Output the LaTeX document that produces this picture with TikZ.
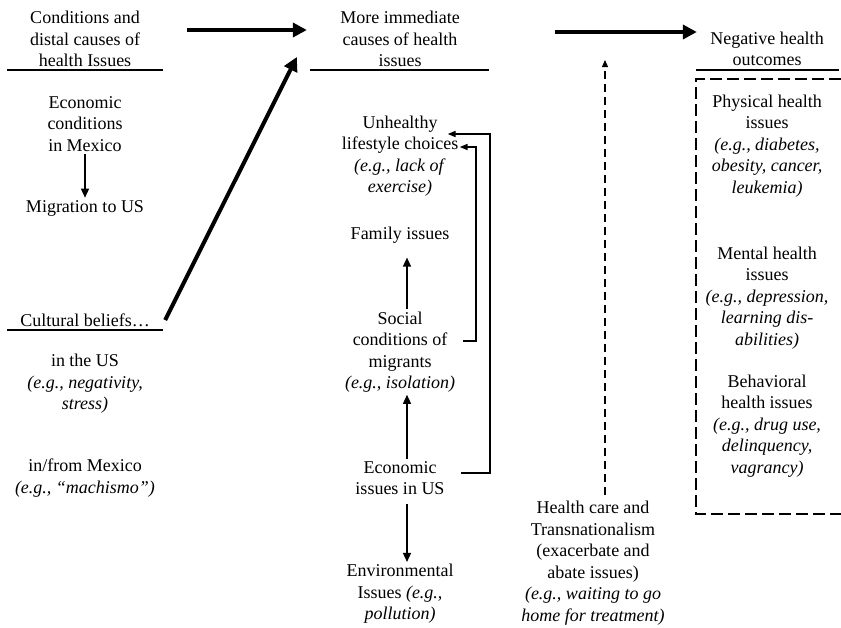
\documentclass[tikz,border=0pt]{standalone}
\usepackage{fontspec}
\setmainfont{Liberation Serif}
\usetikzlibrary{arrows.meta,positioning}

\tikzset{
  lbl/.style={align=center, inner sep=1pt, font=\fontsize{9}{10.75}\selectfont},
  ar/.style={-{Triangle[length=4.5pt,width=4pt]}, line width=0.7pt},
  elb/.style={-{Triangle[length=4pt,width=3pt]}, line width=0.8pt},
  big/.style={-{Triangle[length=7pt,width=7pt]}, line width=2pt},
  dar/.style={-{Triangle[length=3.5pt,width=3pt]}, line width=0.6pt, dash pattern=on 4pt off 2.5pt},
  rule/.style={line width=1pt},
}

\begin{document}
\begin{tikzpicture}[x=0.5pt, y=-0.5pt, on grid]
\useasboundingbox (0,0) rectangle (841,627);
% headings
\node[lbl] (hd1) at (85,39) {Conditions and\\distal causes of\\health Issues};
\node[lbl] (hd2) at (400,39) {More immediate\\causes of health\\issues};
\node[lbl] (hd3) at (767,49) {Negative health\\outcomes};
\draw[rule] (7,70) -- (163,70);
\draw[rule] (310,70) -- (489,70);
\draw[rule] (696,70) -- (839,70);

% distal causes
\node[lbl] (econmx) [below=42.5pt of hd1] {Economic\\conditions\\in Mexico};
\node[lbl] (migr) [below=42pt of econmx] {Migration to US};
\node[lbl] (cult) [below=56pt of migr] {Cultural beliefs…};
\draw[rule] (7,330) -- (163,330);
\node[lbl] (inus) [below=32pt of cult] {in the US\\\textit{(e.g., negativity,}\\\textit{stress)}};
\node[lbl] (inmx) [below=47pt of inus] {in/from Mexico\\\textit{(e.g., “machismo”)}};

% immediate causes
\node[lbl] (unh) [below=58.5pt of hd2] {Unhealthy\\lifestyle choices\\\textit{(e.g., lack of}\\\textit{exercise)}};
\node[lbl] (fam) [below=39.5pt of unh] {Family issues};
\node[lbl] (soc) [below=58.5pt of fam] {Social\\conditions of\\migrants\\\textit{(e.g., isolation)}};
\node[lbl] (ecus) [below=63pt of soc] {Economic\\issues in US};
\node[lbl] (env) [below=58pt of ecus] {Environmental\\Issues \textit{(e.g.,}\\\textit{pollution)}};

% health care
\node[lbl] (hc) at (593,563) {Health care and\\Transnationalism\\(exacerbate and\\abate issues)\\\textit{(e.g., waiting to go}\\\textit{home for treatment)}};

% outcomes
\node[lbl] (phys) [below=48.5pt of hd3] {Physical health\\issues\\\textit{(e.g., diabetes,}\\\textit{obesity, cancer,}\\\textit{leukemia)}};
\node[lbl] (ment) [below=76pt of phys] {Mental health\\issues\\\textit{(e.g., depression,}\\\textit{learning dis-}\\\textit{abilities)}};
\node[lbl] (beh) [below=64pt of ment] {Behavioral\\health issues\\\textit{(e.g., drug use,}\\\textit{delinquency,}\\\textit{vagrancy)}};
\draw[line width=1pt, dash pattern=on 6pt off 2.5pt] (841,79) -- (696,79) -- (696,514) -- (841,514);

% thin arrows
\path[ar] (econmx) edge (migr)
  ([xshift=3.5pt]soc.north) edge[shorten >=6pt] ([xshift=3.5pt]fam.south)
  ([xshift=3.5pt]ecus.north) edge ([xshift=3.5pt]soc.south)
  ([xshift=3.5pt]ecus.south) edge[shorten <=3.5pt] ([xshift=3.5pt]env.north);

% elbows into lifestyle choices
\coordinate (ix) at (476,0);
\coordinate (ox) at (490,0);
\coordinate (socout) at ([xshift=3pt,yshift=5.5pt]soc.east);
\coordinate (ecusout) at ([xshift=7pt,yshift=2.5pt]ecus.east);
\draw[elb] (socout) -- (socout -| ix) |- ([xshift=-0.5pt,yshift=4.5pt]unh.east);
\draw[elb] (ecusout) -- (ecusout -| ox) |- ([xshift=-6.5pt,yshift=11pt]unh.east);

% thick arrows
\coordinate (t1) at ([xshift=22.5pt,yshift=4.5pt]hd1.east);
\coordinate (t2) at ([xshift=46.5pt,yshift=3.5pt]hd2.east);
\draw[big, shorten >=15.5pt] (t1) -- (t1 -| hd2.west);
\draw[big] ([xshift=6.5pt]cult.east) -- ([xshift=-20.5pt,yshift=-9pt]hd2.west);
\draw[big, shorten >=5.5pt] (t2) -- (t2 -| hd3.west);

% dashed arrow
\coordinate (hctip) at (605,60);
\draw[dar, shorten <=2pt] (hc.north -| hctip) -- (hctip);
\end{tikzpicture}
\end{document}
